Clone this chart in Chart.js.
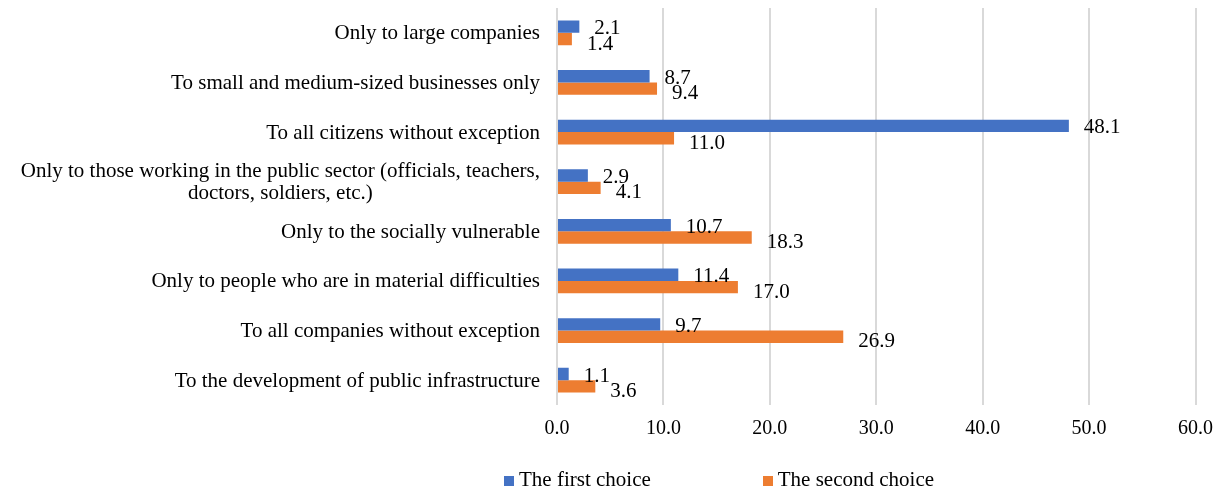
<!DOCTYPE html>
<html>
<head>
<meta charset="utf-8">
<script src="https://cdn.jsdelivr.net/npm/chart.js@4.4.1/dist/chart.umd.min.js"></script>
<style>
  html, body { margin: 0; padding: 0; background: #fff; }
  #wrap { position: relative; width: 1225px; height: 489px; }
  #legend {
    position: absolute; left: 504px; top: 467px;
    font-family: "Liberation Serif", "Times New Roman", serif; font-size: 21px; line-height: 24px; color: #000;
    display: flex; gap: 112px; white-space: nowrap;
  }
  #legend span.box { display: inline-block; width: 10px; height: 10px; margin-right: 5px; }
</style>
</head>
<body>
<div id="wrap">
  <canvas id="chart" width="1225" height="489"></canvas>
  <div id="legend"></div>
</div>
<script>
const categories = [
  "Only to large companies",
  "To small and medium-sized businesses only",
  "To all citizens without exception",
  ["Only to those working in the public sector (officials, teachers,", "doctors, soldiers, etc.)"],
  "Only to the socially vulnerable",
  "Only to people who are in material difficulties",
  "To all companies without exception",
  "To the development of public infrastructure"
];
const firstChoice = [2.1, 8.7, 48.1, 2.9, 10.7, 11.4, 9.7, 1.1];
const secondChoice = [1.4, 9.4, 11.0, 4.1, 18.3, 17.0, 26.9, 3.6];
const seriesNames = ["The first choice", "The second choice"];
const seriesColors = ["#4472C4", "#ED7D31"];

const serif = "'Liberation Serif', 'Times New Roman', serif";

// value labels just past the end of each bar
const barLabels = {
  id: "barLabels",
  afterDatasetsDraw(chart) {
    const ctx = chart.ctx;
    ctx.save();
    ctx.font = "21px " + serif;
    ctx.fillStyle = "#000";
    ctx.textAlign = "left";
    ctx.textBaseline = "middle";
    chart.data.datasets.forEach((ds, di) => {
      chart.getDatasetMeta(di).data.forEach((bar, i) => {
        ctx.fillText(ds.data[i].toFixed(1), bar.x + 15, bar.y + (di === 1 ? 5 : 2));
      });
    });
    ctx.restore();
  }
};

// category labels, right aligned, multi-line blocks centred
const catLabels = {
  id: "catLabels",
  afterDraw(chart) {
    const ctx = chart.ctx;
    const y = chart.scales.y;
    const right = chart.chartArea.left - 17;
    ctx.save();
    ctx.font = "21px " + serif;
    ctx.fillStyle = "#000";
    ctx.textBaseline = "middle";
    ctx.textAlign = "center";
    categories.forEach((c, i) => {
      const lines = Array.isArray(c) ? c : [c];
      const cy = y.getPixelForTick(i) + 1;
      const lh = 22;
      const w = Math.max(...lines.map(l => ctx.measureText(l).width));
      lines.forEach((l, k) => {
        ctx.fillText(l, right - w / 2, cy + (k - (lines.length - 1) / 2) * lh);
      });
    });
    ctx.restore();
  }
};

new Chart(document.getElementById("chart"), {
  type: "bar",
  data: {
    labels: categories,
    datasets: [
      { label: seriesNames[0], data: firstChoice, backgroundColor: seriesColors[0] },
      { label: seriesNames[1], data: secondChoice, backgroundColor: seriesColors[1] }
    ]
  },
  options: {
    indexAxis: "y",
    responsive: false,
    animation: false,
    categoryPercentage: 0.5,
    barPercentage: 1.0,
    layout: { padding: { top: 8, right: 28, bottom: 36, left: 0 } },
    plugins: {
      legend: { display: false },
      tooltip: { enabled: false }
    },
    scales: {
      x: {
        min: 0, max: 60,
        ticks: {
          stepSize: 10,
          padding: 12,
          color: "#000",
          font: { family: serif, size: 20 },
          callback: v => v.toFixed(1)
        },
        grid: { color: "#d9d9d9", lineWidth: 2, drawTicks: false },
        border: { display: false }
      },
      y: {
        ticks: { display: false },
        grid: { display: false },
        border: { display: false },
        afterFit: s => { s.width = 557; }
      }
    }
  },
  plugins: [barLabels, catLabels]
});

const legend = document.getElementById("legend");
seriesNames.forEach((n, i) => {
  const item = document.createElement("div");
  item.innerHTML = '<span class="box" style="background:' + seriesColors[i] + '"></span>' + n;
  legend.appendChild(item);
});
</script>
</body>
</html>
